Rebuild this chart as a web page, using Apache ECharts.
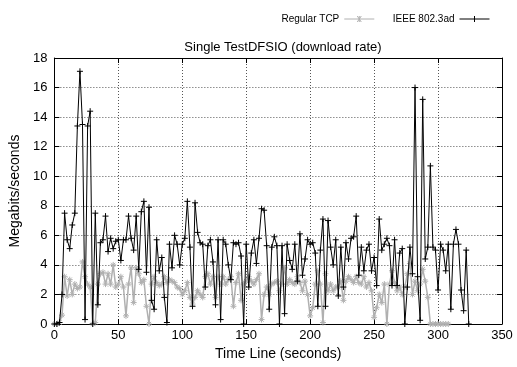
<!DOCTYPE html>
<html>
<head>
<meta charset="utf-8">
<script src="https://cdn.jsdelivr.net/npm/echarts@6/dist/echarts.min.js"></script>
<style>
  html, body { margin: 0; padding: 0; background: #fff; }
  #chart { width: 517px; height: 367px; }
</style>
</head>
<body>
<div id="chart"></div>
<script>
// sampling step of both traces, seconds
var sampleSec = 2;

// Regular TCP, t = 0 .. 308 s
var tcpRate = [
  0, 0, 0.1, 0.6, 3.2, 1.9, 3.0, 2.0, 2.7, 2.4,
  2.5, 4.2, 3.2, 2.7, 2.5, 0, 0.1, 2.7, 3.4, 3.5,
  2.7, 3.4, 2.7, 4.0, 2.5, 2.7, 3.2, 2.5, 0.55, 2.7,
  3.8, 1.45, 3.8, 3.4, 2.8, 3.0, 1.2, 0, 2.7, 3.2,
  2.8, 2.6, 2.7, 3.2, 2.8, 3.0, 2.9, 2.8, 2.5, 2.4,
  2.0, 2.25, 2.8, 1.8, 1.35, 1.8, 2.25, 2.0, 1.8, 3.2,
  3.4, 2.7, 3.2, 1.8, 3.2, 2.7, 3.2, 2.7, 3.0, 3.2,
  1.2, 2.8, 3.4, 1.6, 2.7, 2.9, 3.2, 2.9, 2.7, 3.0,
  3.4, 0.3, 2.0, 2.5, 2.0, 2.7, 2.8, 2.9, 2.25, 2.7,
  3.8, 2.7, 3.0, 2.8, 2.7, 3.2, 2.8, 2.25, 2.9, 2.0,
  0.55, 1.1, 2.7, 3.6, 2.7, 0.1, 3.4, 2.25, 2.7, 2.25,
  2.5, 2.5, 2.9, 1.6, 2.9, 3.2, 3.0, 2.8, 3.2, 2.8,
  2.7, 3.2, 2.5, 2.8, 2.25, 0.45, 1.1, 2.0, 1.45, 2.7,
  0, 2.7, 3.6, 2.8, 2.25, 2.5, 2.0, 2.5, 3.4, 4.1,
  2.0, 2.9, 2.25, 2.7, 3.7, 2.9, 1.8, 0, 0, 0,
  0, 0, 0, 0, 0
];

// IEEE 802.3ad, t = 0 .. 324 s
var lacpRate = [
  0, 0, 0.1, 2.0, 7.5, 5.7, 5.1, 6.7, 7.5, 13.4,
  17.1, 13.5, 0.3, 13.4, 14.4, 0, 7.5, 1.3, 5.5, 5.7,
  7.3, 4.9, 5.8, 5.1, 5.6, 5.7, 4.3, 5.7, 5.7, 7.3,
  5.8, 5.0, 7.3, 3.7, 7.6, 8.3, 3.5, 7.9, 1.6, 1.0,
  5.7, 3.6, 4.5, 1.8, 0.1, 5.4, 3.8, 6.0, 5.4, 4.0,
  5.4, 5.8, 8.3, 5.2, 1.2, 8.2, 6.2, 5.5, 5.4, 2.5,
  5.3, 5.7, 4.2, 1.3, 5.7, 0.3, 5.7, 5.4, 4.0, 3.0,
  5.5, 5.4, 5.5, 4.6, 0, 5.4, 2.5, 4.8, 5.7, 4.1,
  5.8, 7.8, 7.7, 5.3, 1.0, 5.2, 5.9, 5.3, 0, 5.3,
  0.7, 5.4, 4.3, 3.7, 5.4, 2.9, 6.1, 3.3, 4.4, 5.7,
  5.4, 5.5, 4.8, 1.2, 5.0, 7.1, 1.2, 7.0, 5.2, 4.0,
  5.7, 1.9, 5.2, 2.5, 5.5, 4.4, 5.8, 5.9, 7.3, 3.3,
  5.2, 3.6, 5.0, 5.4, 3.6, 4.5, 2.6, 7.1, 5.0, 5.4,
  5.8, 5.3, 2.6, 5.7, 2.6, 4.8, 5.1, 0, 2.5, 5.2,
  3.4, 16.0, 3.2, 0.25, 15.2, 4.4, 5.2, 10.7, 5.2, 5.0,
  2.3, 5.4, 5.0, 3.6, 5.4, 1.0, 5.4, 6.4, 5.4, 2.3,
  0.9, 5.0, 0
];

var seriesNames = ['Regular TCP', 'IEEE 802.3ad'];

function toPairs(values) {
  return values.map(function (v, i) { return [i * sampleSec, v]; });
}

var font = 'Liberation Sans, Arial, sans-serif';
var plusPath = 'path://M0,5L10,5M5,0L5,10';
var starPath = 'path://M0,5L10,5M5,0L5,10M1.5,1.5L8.5,8.5M8.5,1.5L1.5,8.5';
var tcpColor = '#b0b0b0';

var myChart = echarts.init(document.getElementById('chart'), null, { renderer: 'canvas' });

var tickStyle = { show: true, inside: true, length: 5, lineStyle: { color: '#000', width: 1 } };
var borderLine = { show: true, onZero: false, lineStyle: { color: '#000', width: 1 } };
var gridLine = { show: true, lineStyle: { color: '#555', type: [1, 2], width: 1 } };

var option = {
  animation: false,
  backgroundColor: '#fff',
  title: {
    text: 'Single TestDFSIO (download rate)',
    left: 278, top: 36, textAlign: 'center',
    textStyle: { fontFamily: font, fontSize: 13, fontWeight: 'normal', color: '#000' }
  },
  legend: {
    data: [
      { name: seriesNames[0], icon: 'path://M0,5L30,5M13,2L17,8M17,2L13,8M15,2L15,8' },
      { name: seriesNames[1], icon: 'path://M0,5L30,5M15,2L15,8' }
    ],
    right: 22, top: 9,
    align: 'right',
    itemWidth: 30, itemHeight: 7, itemGap: 18,
    itemStyle: { borderWidth: 1 },
    textStyle: { fontFamily: font, fontSize: 10, color: '#000' }
  },
  grid: { left: 54, right: 15, top: 58, bottom: 43, containLabel: false },
  xAxis: [{
    type: 'value', min: 0, max: 350, interval: 50,
    name: 'Time Line (seconds)', nameLocation: 'middle', nameGap: 23,
    nameTextStyle: { fontFamily: font, fontSize: 14, color: '#000' },
    axisLine: borderLine, axisTick: tickStyle,
    axisLabel: { fontFamily: font, fontSize: 13, color: '#000', margin: 5 },
    splitLine: gridLine
  }, {
    type: 'value', min: 0, max: 350, interval: 50, position: 'top',
    axisLine: borderLine, axisTick: tickStyle,
    axisLabel: { show: false }, splitLine: { show: false }
  }],
  yAxis: [{
    type: 'value', min: 0, max: 18, interval: 2,
    name: 'Megabits/seconds', nameLocation: 'middle', nameGap: 29,
    nameTextStyle: { fontFamily: font, fontSize: 14, color: '#000' },
    axisLine: borderLine, axisTick: tickStyle,
    axisLabel: { fontFamily: font, fontSize: 13, color: '#000', margin: 7 },
    splitLine: gridLine
  }, {
    type: 'value', min: 0, max: 18, interval: 2, position: 'right',
    axisLine: borderLine, axisTick: tickStyle,
    axisLabel: { show: false }, splitLine: { show: false }
  }],
  series: [{
    name: seriesNames[0],
    type: 'line',
    data: toPairs(tcpRate),
    symbol: starPath, symbolSize: 6,
    lineStyle: { color: tcpColor, width: 1.5 },
    itemStyle: { color: tcpColor, borderColor: tcpColor, borderWidth: 1 },
    z: 2
  }, {
    name: seriesNames[1],
    type: 'line',
    data: toPairs(lacpRate),
    symbol: plusPath, symbolSize: 6,
    lineStyle: { color: '#000', width: 1 },
    itemStyle: { color: '#000', borderColor: '#000', borderWidth: 1 },
    z: 3
  }]
};

myChart.setOption(option);
</script>
</body>
</html>
